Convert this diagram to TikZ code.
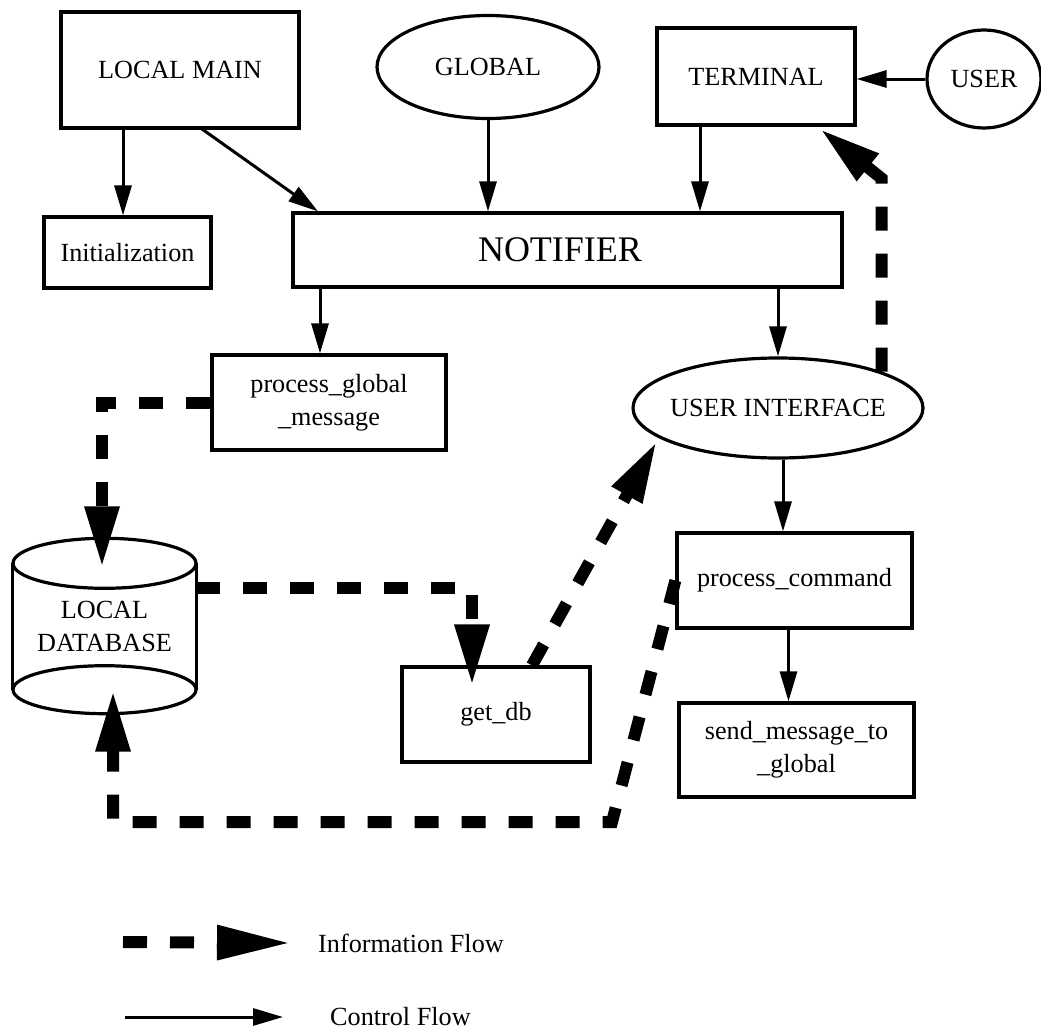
\documentclass[tikz,border=0pt]{standalone}
\usepackage{fontspec}
\setmainfont{Liberation Serif}
\usetikzlibrary{arrows.meta,shapes.geometric,calc}
\begin{document}
\begin{tikzpicture}[x=1pt,y=-1pt,
  every node/.style={font=\fontsize{26.2}{33}\selectfont, inner sep=0pt, align=center},
  box/.style={draw, line width=3.2pt, rectangle},
  oval/.style={draw, line width=3.2pt, ellipse},
  dbline/.style={line width=3.2pt},
  ctrl/.style={line width=3pt, -{Triangle[length=30pt,width=17pt]}},
  info/.style={line width=12pt, dash pattern=on 24pt off 23pt, -{Triangle[length=62pt,width=32pt]}},
  infolegend/.style={info, -{Triangle[length=75pt,width=32pt]}},
]
\useasboundingbox (0,0) rectangle (1041,1033);

% nodes
\node[box, minimum width=238pt, minimum height=116pt] (lm) at (180,70) {LOCAL MAIN};
\node[oval, minimum width=222pt, minimum height=103pt] (glob) at (488,67) {GLOBAL};
\node[box, minimum width=198pt, minimum height=97pt] (term) at (756,76.5) {TERMINAL};
\node[oval, minimum width=114pt, minimum height=98pt] (user) at (984,79) {USER};
\node[box, minimum width=167pt, minimum height=71pt] (init) at (127.5,252.5) {Initialization};
\node[box, minimum width=549pt, minimum height=74pt, font=\fontsize{36}{40}\selectfont] (notif) at (567.5,250) {NOTIFIER\hspace*{15pt}};
\node[box, minimum width=234pt, minimum height=95pt] (pgm) at (329,402.5) {process\_global\\\_message};
\node[oval, minimum width=290pt, minimum height=100pt] (ui) at (778,408) {\makebox[0pt]{USER INTERFACE}};
\node[box, minimum width=235pt, minimum height=95pt] (pc) at (794.5,580.5) {process\_command};
\node[box, minimum width=235pt, minimum height=94pt] (sm) at (796.5,750) {send\_message\_to\\\_global};
\node[box, minimum width=188pt, minimum height=95pt] (getdb) at (496,714.5) {get\_db};
\node[minimum width=183pt, minimum height=175pt] (db) at (104.5,626) {LOCAL\\DATABASE};

% cylinder outline for LOCAL DATABASE
\draw[dbline] ($(db.north west)+(0,25)$) -- ($(db.south west)+(0,-24)$)
              ($(db.north east)+(0,25)$) -- ($(db.south east)+(0,-24)$);
\draw[dbline] ($(db.north)+(0,25)$) ellipse [x radius=91.5, y radius=25];
\draw[dbline] ($(db.south)+(0,-24)$) ellipse [x radius=91.5, y radius=24];

% control flow
\draw[ctrl] ($(lm.south)+(-57,0)$) -- ($(init.north)+(-4.5,0)$);
\draw[ctrl] ($(lm.south)+(20,-2)$) -- ($(notif.north)+(-249.5,0)$);
\draw[ctrl] (glob.south) -- (glob.south |- notif.north);
\draw[ctrl] ([xshift=-56pt]term.south) -- ([xshift=-56pt]term.south |- notif.north);
\draw[ctrl] (user.west) -- (user.west -| term.east);
\draw[ctrl] ([xshift=-9pt]pgm.north |- notif.south) -- ([xshift=-9pt]pgm.north);
\draw[ctrl] (ui.north |- notif.south) -- (ui.north);
\draw[ctrl] ([xshift=5pt]ui.south) -- ([xshift=5pt]ui.south |- pc.north);
\draw[ctrl] ([xshift=-6pt]pc.south) -- ([xshift=-6pt]pc.south |- sm.north);

% information flow
\coordinate (c1) at (612,822);
\coordinate (c2) at (113,822);
\draw[info] (pgm.west) -| ($(db.north)+(-2.5,30)$);
\draw[info] ($(db.north east)+(0,50)$) -| ($(getdb.north)+(-24,21)$);
\draw[info] ($(getdb.north)+(36,0)$) -- ($(ui.center)+(-121,33)$);
\draw[info] (pc.west) -- (c1) -- (c2) -- ($(db.south)+(8.5,-24)$);
\draw[info] (ui.north east) -- ++(0,-193) -- ($(term.south east)+(-37,2)$);

% legend
\node[anchor=west] (infotxt) at (318,943) {Information Flow};
\node[anchor=west] (ctrltxt) at (330,1017) {Control Flow};
\coordinate (li) at (123,942);
\coordinate (lc) at (125,1017);
\draw[infolegend] (li) -- ($(infotxt.west)+(-26,0)$);
\draw[ctrl] (lc) -- ($(ctrltxt.west)+(-47,0)$);
\end{tikzpicture}
\end{document}
